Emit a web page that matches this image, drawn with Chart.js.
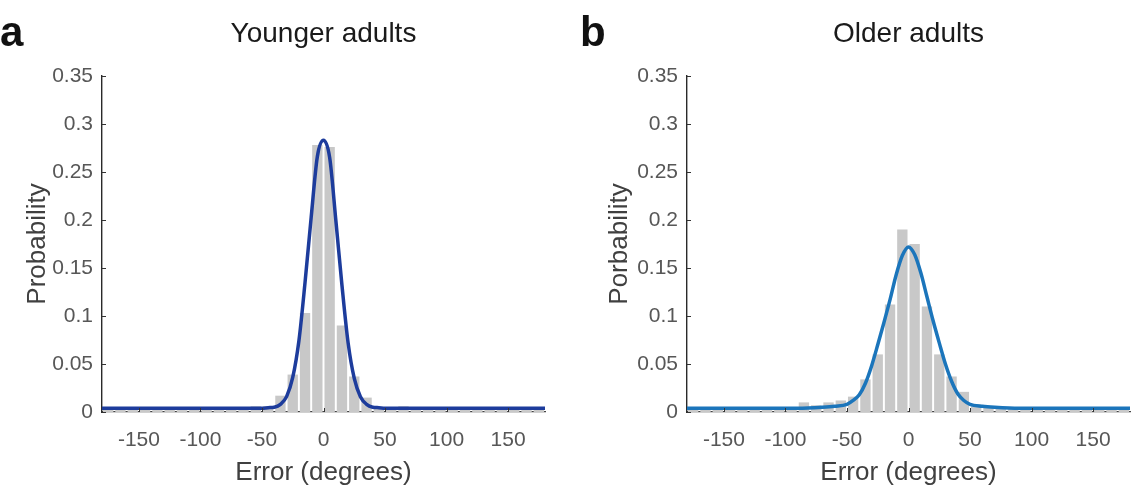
<!DOCTYPE html>
<html>
<head>
<meta charset="utf-8">
<script src="https://cdn.jsdelivr.net/npm/chart.js@4.4.1/dist/chart.umd.min.js"></script>
<style>
  body { margin: 0; background: #fff; }
  #wrap { position: relative; width: 1138px; height: 489px; overflow: hidden; }
  canvas { position: absolute; top: 0; }
  .letter { position: absolute; top: 11px; font: bold 42px 'Liberation Sans', Arial, sans-serif; line-height: 1; color: #111; }
</style>
</head>
<body>
<div id="wrap">
  <canvas id="young-chart" width="569" height="489" style="left:0"></canvas>
  <canvas id="older-chart" width="569" height="489" style="left:569px"></canvas>
  <div class="letter" style="left:0">a</div>
  <div class="letter" style="left:580px">b</div>
</div>
<script>
// histogram bins (10 deg wide), centres in degrees
const binCenters = [-175, -165, -155, -145, -135, -125, -115, -105, -95, -85, -75, -65,
    -55, -45, -35, -25, -15, -5, 5, 15, 25, 35, 45, 55, 65, 75, 85, 95, 105, 115,
    125, 135, 145, 155, 165, 175];

const youngHist = [0.003, 0.003, 0.002, 0.003, 0.002, 0.003, 0.002, 0.003, 0.003, 0.002, 0.003, 0.003,
    0.006, 0.006, 0.017, 0.039, 0.103, 0.278, 0.276, 0.090, 0.037, 0.015, 0.005, 0.003,
    0.006, 0.003, 0.002, 0.003, 0.002, 0.003, 0.002, 0.003, 0.002, 0.003, 0.002, 0.003];

const olderHist = [0.004, 0.003, 0.004, 0.003, 0.004, 0.003, 0.004, 0.005, 0.005, 0.010, 0.007, 0.010,
    0.012, 0.016, 0.034, 0.060, 0.112, 0.190, 0.175, 0.110, 0.060, 0.037, 0.021, 0.008,
    0.005, 0.004, 0.004, 0.003, 0.004, 0.003, 0.004, 0.003, 0.004, 0.003, 0.004, 0.003];

// fitted curves
const curveX = [-180, -90, -70, -60, -50, -45, -40, -35, -30, -25, -20, -15, -10, -5, 0,
    5, 10, 15, 20, 25, 30, 35, 40, 45, 50, 60, 70, 90, 180];

const youngCurve = [0.004, 0.004, 0.004, 0.004, 0.004, 0.0045, 0.005, 0.008, 0.016, 0.036, 0.074, 0.135, 0.203, 0.266, 0.283,
    0.265, 0.200, 0.132, 0.072, 0.035, 0.016, 0.008, 0.005, 0.0045, 0.004, 0.004, 0.004, 0.004, 0.004];

const olderCurve = [0.004, 0.004, 0.005, 0.006, 0.008, 0.012, 0.018, 0.030, 0.048, 0.070, 0.093, 0.117, 0.143, 0.163, 0.172,
    0.164, 0.145, 0.120, 0.095, 0.072, 0.050, 0.032, 0.019, 0.012, 0.008, 0.006, 0.005, 0.004, 0.004];

const xTicks = [-150, -100, -50, 0, 50, 100, 150];
const yTicks = [0, 0.05, 0.1, 0.15, 0.2, 0.25, 0.3, 0.35];

Chart.defaults.font.family = "'Liberation Sans', Arial, sans-serif";

// matlab style ticks pointing into the plot
const inwardTicks = {
    id: 'inwardTicks',
    afterDatasetsDraw(chart) {
        const { ctx, chartArea, scales } = chart;
        ctx.save();
        ctx.strokeStyle = '#333';
        ctx.lineWidth = 1;
        ctx.beginPath();
        scales.x.ticks.forEach(t => {
            const px = Math.round(scales.x.getPixelForValue(t.value)) + 0.5;
            ctx.moveTo(px, chartArea.bottom);
            ctx.lineTo(px, chartArea.bottom - 4);
        });
        scales.y.ticks.forEach(t => {
            const py = Math.round(scales.y.getPixelForValue(t.value)) + 0.5;
            ctx.moveTo(chartArea.left, py);
            ctx.lineTo(chartArea.left + 4, py);
        });
        ctx.stroke();
        ctx.restore();
    }
};

function renderPanel(id, cfg) {
    const ctx = document.getElementById(id);
    return new Chart(ctx, {
        type: 'bar',
        data: {
            datasets: [{
                type: 'line',
                data: curveX.map((x, i) => ({ x: x, y: cfg.curve[i] })),
                borderColor: cfg.lineColor,
                borderWidth: 3.5,
                pointRadius: 0,
                cubicInterpolationMode: 'monotone',
                fill: false,
                order: 0
            }, {
                type: 'bar',
                data: binCenters.map((x, i) => ({ x: x, y: cfg.hist[i] })),
                backgroundColor: '#c8c8c8',
                borderWidth: 0,
                barPercentage: 0.84,
                categoryPercentage: 1,
                order: 1
            }]
        },
        options: {
            responsive: false,
            animation: false,
            layout: {
                padding: { left: 0, right: cfg.padRight, top: 0, bottom: 0 }
            },
            plugins: {
                legend: { display: false },
                tooltip: { enabled: false },
                title: {
                    display: true,
                    text: cfg.title,
                    fullSize: false,
                    color: '#1a1a1a',
                    font: { size: 28, weight: 'normal' },
                    padding: { top: 17, bottom: 25.4 }
                }
            },
            scales: {
                x: {
                    type: 'linear',
                    min: -180,
                    max: 180,
                    offset: false,
                    grid: { display: false, drawTicks: false, offset: false },
                    border: { display: true, color: '#444', width: 1.3 },
                    afterBuildTicks: scale => { scale.ticks = xTicks.map(v => ({ value: v })); },
                    afterFit: scale => { scale.height = 77; },
                    ticks: {
                        color: '#575757',
                        font: { size: 21 },
                        padding: 16,
                        maxRotation: 0
                    },
                    title: {
                        display: true,
                        text: 'Error (degrees)',
                        color: '#404040',
                        font: { size: 26 },
                        padding: { top: 0, bottom: 1 }
                    }
                },
                y: {
                    min: 0,
                    max: 0.35,
                    grid: { display: false, drawTicks: false },
                    border: { display: true, color: '#2a2a2a', width: 1.4 },
                    afterBuildTicks: scale => { scale.ticks = yTicks.map(v => ({ value: v })); },
                    afterFit: scale => { scale.width = cfg.axisLeft; },
                    ticks: {
                        color: '#575757',
                        font: { size: 21 },
                        padding: 9,
                        callback: v => String(Math.round(v * 100) / 100)
                    },
                    title: {
                        display: true,
                        text: cfg.yLabel,
                        color: '#404040',
                        font: { size: 26 },
                        padding: { top: cfg.yTitlePad, bottom: cfg.yTitlePad }
                    }
                }
            }
        },
        plugins: [inwardTicks]
    });
}

renderPanel('young-chart', {
    title: 'Younger adults',
    yLabel: 'Probability',
    hist: youngHist,
    curve: youngCurve,
    lineColor: '#1d3c9c',
    axisLeft: 102,
    padRight: 24,
    yTitlePad: 22
});

renderPanel('older-chart', {
    title: 'Older adults',
    yLabel: 'Porbability',
    hist: olderHist,
    curve: olderCurve,
    lineColor: '#1b75bb',
    axisLeft: 118,
    padRight: 8,
    yTitlePad: 35
});
</script>
</body>
</html>
